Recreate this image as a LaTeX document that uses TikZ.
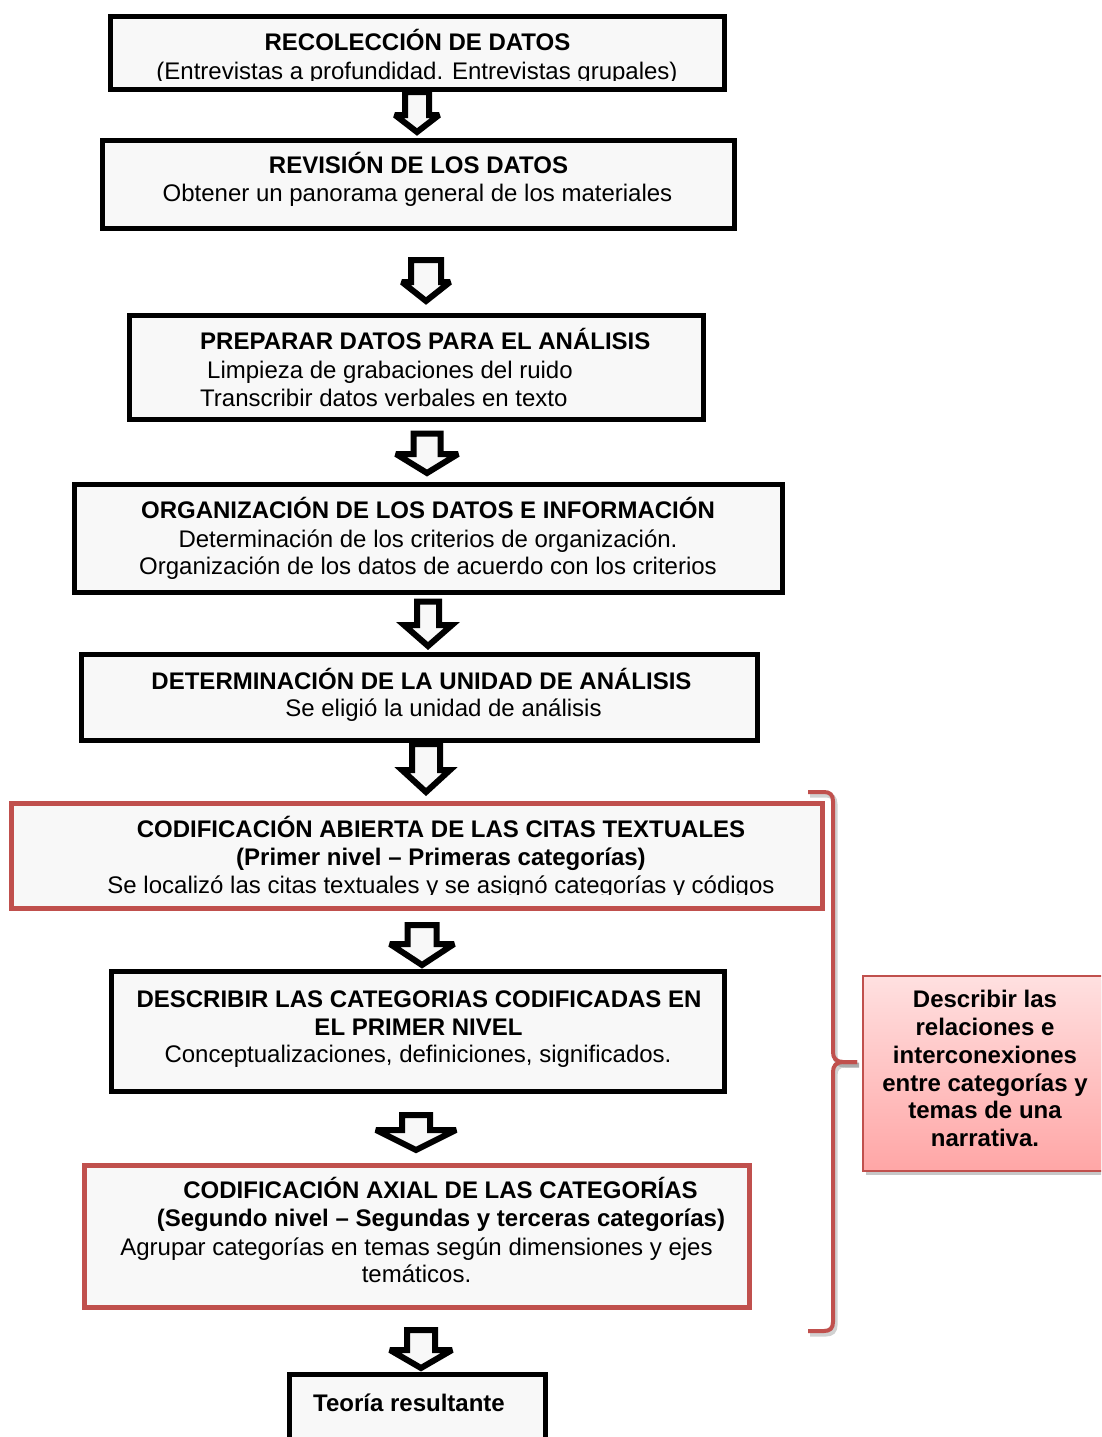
\documentclass[tikz,border=0pt]{standalone}
\usepackage{fontspec}
\setmainfont{Liberation Sans}
\definecolor{boxfill}{RGB}{248,248,248}
\definecolor{accent}{RGB}{192,80,77}
\definecolor{pinktop}{RGB}{255,224,224}
\definecolor{pinkbot}{RGB}{255,166,166}
\newcommand\blockarr[6]{% centre x, shaft top, head base, tip, shaft half width, head half width
  \draw[blockarrow] ({#1-#5},#2) -- ({#1+#5},#2) -- ({#1+#5},#3) -- ({#1+#6},#3)
    -- (#1,#4) -- ({#1-#6},#3) -- ({#1-#5},#3) -- cycle;}
\begin{document}
\begin{tikzpicture}[x=1pt,y=-1pt,
  stepbox/.style={draw=black, line width=5pt, fill=boxfill, rectangle, inner sep=0pt},
  redbox/.style={stepbox, draw=accent},
  blockarrow/.style={draw=black, line width=6pt, fill=boxfill, line join=miter, miter limit=3},
  ttl/.style={font=\bfseries\fontsize{24}{28}\selectfont, anchor=base, inner sep=0pt},
  txt/.style={font=\fontsize{24}{28}\selectfont, anchor=base, inner sep=0pt},
  brace/.style={draw=accent, line width=4pt},
  braceshadow/.style={draw=black, opacity=0.18, line width=5pt}]
\clip (0,0) rectangle (1101,1437);
\fill[white] (0,0) rectangle (1101,1437);

% process boxes
\node[stepbox, minimum width=614pt, minimum height=73pt]  (b1) at (417.5,53) {};
\node[stepbox, minimum width=632pt, minimum height=88pt]  (b2) at (418.5,184.5) {};
\node[stepbox, minimum width=574pt, minimum height=104pt] (b3) at (416.5,367.5) {};
\node[stepbox, minimum width=708pt, minimum height=108pt] (b4) at (428.5,538.5) {};
\node[stepbox, minimum width=676pt, minimum height=86pt]  (b5) at (419.5,697.5) {};
\node[redbox,  minimum width=811pt, minimum height=105pt] (b6) at (417,856) {};
\node[stepbox, minimum width=613pt, minimum height=120pt] (b7) at (418,1031.5) {};
\node[redbox,  minimum width=665pt, minimum height=142pt] (b8) at (417,1236.5) {};
\node[stepbox, minimum width=256pt, minimum height=86pt]  (b9) at (417.5,1417.5) {};

% box texts
\begin{scope}
  \clip (112,18) rectangle (723,80.5);
  \node[ttl] (t1a) at (417.5,51) {RECOLECCIÓN DE DATOS};
  \node[txt] (t1b) at (417,80) {(Entrevistas a profundidad. Entrevistas grupales)};
\end{scope}
\node[ttl] (t2a) at (418.5,173) {REVISIÓN DE LOS DATOS};
\node[txt] (t2b) at (417.5,201) {Obtener un panorama general de los materiales};
\node[ttl, anchor=base west] (t3a) at (200,349) {PREPARAR DATOS PARA EL ANÁLISIS};
\node[txt, anchor=base west] (t3b) at (207,378) {Limpieza de grabaciones del ruido};
\node[txt, anchor=base west] (t3c) at (200,406) {Transcribir datos verbales en texto};
\node[ttl] (t4a) at (428,518) {ORGANIZACIÓN DE LOS DATOS E INFORMACIÓN};
\node[txt] (t4b) at (428,547) {Determinación de los criterios de organización.};
\node[txt] (t4c) at (428,574) {Organización de los datos de acuerdo con los criterios};
\node[ttl] (t5a) at (421.5,689) {DETERMINACIÓN DE LA UNIDAD DE ANÁLISIS};
\node[txt] (t5b) at (443.5,716) {Se eligió la unidad de análisis};
\node[ttl] (t6a) at (441,837) {CODIFICACIÓN ABIERTA DE LAS CITAS TEXTUALES};
\node[ttl] (t6b) at (441,865) {(Primer nivel – Primeras categorías)};
\begin{scope}
  \clip (14,870) rectangle (820,894.5);
  \node[txt] (t6c) at (441,893) {Se localizó las citas textuales y se asignó categorías y códigos};
\end{scope}
\node[ttl] (t7a) at (419,1007) {DESCRIBIR LAS CATEGORIAS CODIFICADAS EN};
\node[ttl] (t7b) at (418.5,1035) {EL PRIMER NIVEL};
\node[txt] (t7c) at (418,1062) {Conceptualizaciones, definiciones, significados.};
\node[ttl] (t8a) at (440.5,1198) {CODIFICACIÓN AXIAL DE LAS CATEGORÍAS};
\node[ttl] (t8b) at (441,1226) {(Segundo nivel – Segundas y terceras categorías)};
\node[txt] (t8c) at (416.5,1255) {Agrupar categorías en temas según dimensiones y ejes};
\node[txt] (t8d) at (416.5,1282) {temáticos.};
\node[ttl] (t9a) at (409,1411) {Teoría resultante};

% hollow block arrows between the steps
\blockarr{417}{92}{115}{132}{12}{22}
\blockarr{426}{260}{282}{301}{15}{24}
\blockarr{427}{433.5}{454}{473}{13.5}{31}
\blockarr{428}{601.5}{625}{646}{11}{24}
\blockarr{426}{744}{770}{792}{14}{24}
\blockarr{422}{925}{944}{965}{14.5}{32}
\blockarr{416}{1115}{1130}{1150}{14}{40}
\blockarr{421}{1330}{1350}{1368}{14}{31}

% right brace grouping the coding steps
\begin{scope}[shift={(2,3)}]
  \draw[braceshadow] (808,792) -- (824,792) .. controls (830,792) and (833,795) .. (833,801)
    -- (833,1052) .. controls (833,1058) and (836,1062) .. (843,1062) -- (857,1062);
  \draw[braceshadow] (857,1062) -- (843,1062) .. controls (836,1062) and (833,1066) .. (833,1072)
    -- (833,1322) .. controls (833,1328) and (830,1331) .. (824,1331) -- (808,1331);
\end{scope}
\draw[brace] (808,792) -- (824,792) .. controls (830,792) and (833,795) .. (833,801)
  -- (833,1052) .. controls (833,1058) and (836,1062) .. (843,1062) -- (857,1062);
\draw[brace] (857,1062) -- (843,1062) .. controls (836,1062) and (833,1066) .. (833,1072)
  -- (833,1322) .. controls (833,1328) and (830,1331) .. (824,1331) -- (808,1331);

% note box
\fill[black, opacity=0.22] (866,980) rectangle (1118,1175);
\node[draw=accent, line width=2pt, top color=pinktop, bottom color=pinkbot,
      minimum width=252pt, minimum height=195pt, inner sep=0pt] (note) at (989,1073.5) {};
\node[ttl] (n1) at (985,1007) {Describir las};
\node[ttl] (n2) at (985,1035) {relaciones e};
\node[ttl] (n3) at (985,1063) {interconexiones};
\node[ttl] (n4) at (985,1091) {entre categorías y};
\node[ttl] (n5) at (985,1118) {temas de una};
\node[ttl] (n6) at (985,1146) {narrativa.};
\end{tikzpicture}
\end{document}
